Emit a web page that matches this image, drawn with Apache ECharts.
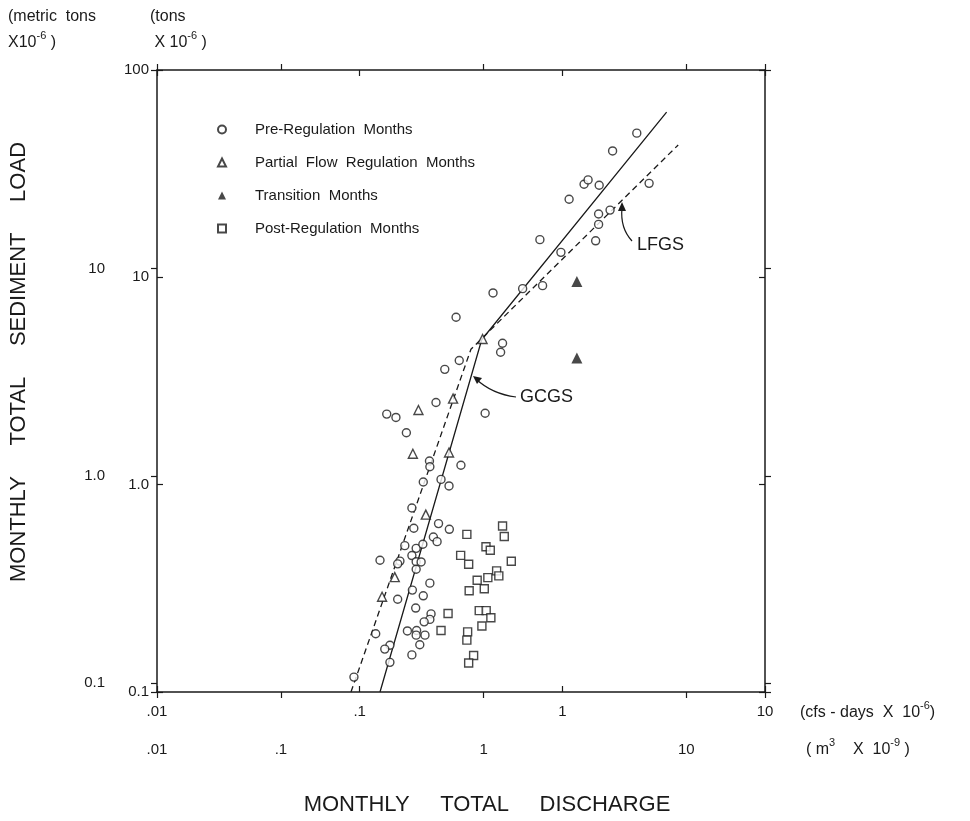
<!DOCTYPE html>
<html lang="en">

<head>
  <meta charset="utf-8">
  <title>Monthly total sediment load vs discharge</title>
  <script src="https://cdn.jsdelivr.net/npm/echarts@6/dist/echarts.min.js"></script>
  <style>
    body {
      margin: 0;
      background: white;
    }

    #chart {
      width: 970px;
      height: 821px;
    }
  </style>
</head>

<body>
  <div id="chart"></div>

  <script>
    // --- Data (tons x 1e-6 vs cfs-days x 1e-6).

    const PRE_REGULATION = [
      [2.33, 49.6], [1.77, 40.7], [1.28, 28.1], [1.34, 29.5], [1.52, 27.8], [1.08, 23.8], [2.68, 28.4],
      [1.51, 20.2], [1.51, 18.0], [1.72, 21.1], [0.775, 15.2], [1.46, 15.0], [0.984, 13.2], [0.637, 8.82],
      [0.799, 9.12], [0.455, 8.41], [0.299, 6.42], [0.507, 4.81], [0.496, 4.35], [0.310, 3.97], [0.263, 3.60],
      [0.238, 2.49], [0.136, 2.19], [0.151, 2.11], [0.416, 2.21], [0.170, 1.78], [0.221, 1.30], [0.222, 1.22],
      [0.316, 1.24], [0.206, 1.03], [0.252, 1.06], [0.276, 0.986], [0.181, 0.772], [0.185, 0.616], [0.245, 0.649],
      [0.277, 0.609], [0.231, 0.559], [0.167, 0.508], [0.190, 0.493], [0.205, 0.516], [0.241, 0.531], [0.126, 0.432],
      [0.158, 0.428], [0.154, 0.415], [0.181, 0.455], [0.190, 0.425], [0.201, 0.424], [0.190, 0.391], [0.222, 0.335],
      [0.182, 0.310], [0.206, 0.291], [0.154, 0.280], [0.189, 0.254], [0.225, 0.238], [0.222, 0.224], [0.208, 0.218],
      [0.172, 0.197], [0.191, 0.198], [0.190, 0.188], [0.210, 0.188], [0.120, 0.191], [0.198, 0.169], [0.141, 0.168],
      [0.133, 0.161], [0.181, 0.151], [0.141, 0.139], [0.0937, 0.118]
    ];

    const PARTIAL_FLOW = [
      [0.404, 5.04], [0.289, 2.60], [0.195, 2.29], [0.183, 1.41], [0.276, 1.43], [0.212, 0.717],
      [0.149, 0.358], [0.129, 0.288]
    ];

    const TRANSITION = [[1.18, 9.54], [1.18, 4.08]];

    const POST_REGULATION = [
      [0.338, 0.576], [0.507, 0.632], [0.517, 0.562], [0.315, 0.456], [0.345, 0.413], [0.420, 0.502],
      [0.441, 0.483], [0.560, 0.427], [0.380, 0.346], [0.429, 0.356], [0.474, 0.384], [0.486, 0.363],
      [0.412, 0.315], [0.347, 0.308], [0.273, 0.239], [0.389, 0.247], [0.421, 0.247], [0.444, 0.228],
      [0.401, 0.208], [0.252, 0.198], [0.341, 0.195], [0.338, 0.178], [0.365, 0.150], [0.345, 0.138]
    ];

    // Fitted rating lines, two segments each.
    const GCGS_LINE = [[0.126, 0.1], [0.40, 5.0], [3.27, 62.6]];
    const LFGS_LINE = [[0.0906, 0.1], [0.354, 4.5], [3.73, 43.5]];

    // Tick labels, in tick order (log axes also tick at min and max).
    const CFS_LABELS = ['.01', '.1', '1', '10'];
    const M3_LABELS = ['.01', '.1', '1', '10', ''];
    const TONS_LABELS = ['0.1', '1.0', '10', '100'];
    const METRIC_LABELS = ['', '0.1', '1.0', '10', ''];

    // Unit conversions used for the secondary axes.
    const M3_PER_CFS_DAY = 2.4466;   // 1e6 cfs-days = 2.4466e9 m3
    const TONS_PER_TONNE = 1.1023;

    const SERIES_NAMES = ['Pre-Regulation  Months', 'Partial  Flow  Regulation  Months', 'Transition  Months', 'Post-Regulation  Months'];

    const INK = '#1a1a1a';
    const FONT = '"Liberation Sans", Arial, sans-serif';

    // --- Axis helpers.

    function logAxis(extra) {
      return Object.assign({
        type: 'log',
        logBase: 10,
        splitLine: { show: false },
        minorTick: { show: false },
        axisLine: { show: false, lineStyle: { color: INK, width: 1.5 } },
        axisTick: { show: true, length: 6, lineStyle: { color: INK, width: 1.2 } },
        axisLabel: { show: false, color: INK, fontSize: 15, fontFamily: FONT }
      }, extra);
    }

    function pick(labels) {
      return (value, index) => labels[index] || '';
    }

    // Text with small raised exponents, written as {sup|...}.
    function supText(x, y, str, size) {
      return {
        type: 'text', x: x, y: y,
        style: {
          text: str, fill: INK, fontSize: size, fontFamily: FONT, lineHeight: 26,
          rich: { sup: { fontSize: Math.round(size * 0.7), fontFamily: FONT, fill: INK, verticalAlign: 'top', lineHeight: 16 } }
        }
      };
    }

    function makeOptions() {
      const cfsMin = 0.01, cfsMax = 10;
      const tonsMin = 0.1, tonsMax = 100;

      const xAxis = [
        // cfs-days, bottom edge, ticks inside.
        logAxis({
          position: 'bottom', min: cfsMin, max: cfsMax,
          axisLine: { show: true, lineStyle: { color: INK, width: 1.5 } },
          axisTick: { show: true, inside: true, length: 6, lineStyle: { color: INK, width: 1.2 } },
          axisLabel: { show: true, color: INK, fontSize: 15, fontFamily: FONT, margin: 12, formatter: pick(CFS_LABELS) }
        }),
        // m3, bottom edge, ticks outside, labels on a lower row.
        logAxis({
          position: 'bottom', min: cfsMin * M3_PER_CFS_DAY, max: cfsMax * M3_PER_CFS_DAY,
          axisLabel: { show: true, color: INK, fontSize: 15, fontFamily: FONT, margin: 50, formatter: pick(M3_LABELS) }
        }),
        // top edge.
        logAxis({
          position: 'top', min: cfsMin, max: cfsMax,
          axisLine: { show: true, lineStyle: { color: INK, width: 1.5 } },
          axisTick: { show: true, inside: true, length: 6, lineStyle: { color: INK, width: 1.2 } }
        }),
        logAxis({ position: 'top', min: cfsMin * M3_PER_CFS_DAY, max: cfsMax * M3_PER_CFS_DAY })
      ];

      const yAxis = [
        // tons, left edge.
        logAxis({
          position: 'left', min: tonsMin, max: tonsMax,
          axisLine: { show: true, lineStyle: { color: INK, width: 1.5 } },
          axisTick: { show: true, inside: true, length: 6, lineStyle: { color: INK, width: 1.2 } },
          axisLabel: { show: true, color: INK, fontSize: 15, fontFamily: FONT, margin: 8, formatter: pick(TONS_LABELS) }
        }),
        // metric tons, left edge, outer label column.
        logAxis({
          position: 'left', min: tonsMin / TONS_PER_TONNE, max: tonsMax / TONS_PER_TONNE,
          axisLabel: { show: true, color: INK, fontSize: 15, fontFamily: FONT, margin: 52, formatter: pick(METRIC_LABELS) }
        }),
        // right edge.
        logAxis({
          position: 'right', min: tonsMin, max: tonsMax,
          axisLine: { show: true, lineStyle: { color: INK, width: 1.5 } },
          axisTick: { show: true, inside: true, length: 6, lineStyle: { color: INK, width: 1.2 } }
        }),
        logAxis({ position: 'right', min: tonsMin / TONS_PER_TONNE, max: tonsMax / TONS_PER_TONNE })
      ];

      const hollow = { color: '#fff', borderColor: INK, borderWidth: 1.4 };

      const series = [
        { name: SERIES_NAMES[0], type: 'scatter', symbol: 'circle', symbolSize: 8, itemStyle: hollow, data: PRE_REGULATION, z: 3 },
        { name: SERIES_NAMES[1], type: 'scatter', symbol: 'triangle', symbolSize: 9, itemStyle: hollow, data: PARTIAL_FLOW, z: 3 },
        { name: SERIES_NAMES[2], type: 'scatter', symbol: 'triangle', symbolSize: 11, itemStyle: { color: INK }, data: TRANSITION, z: 3 },
        { name: SERIES_NAMES[3], type: 'scatter', symbol: 'rect', symbolSize: 8, itemStyle: hollow, data: POST_REGULATION, z: 3 },
        {
          name: 'GCGS', type: 'line', data: GCGS_LINE, symbol: 'none', z: 2,
          lineStyle: { color: INK, width: 1.3 }
        },
        {
          name: 'LFGS', type: 'line', data: LFGS_LINE, symbol: 'none', z: 2,
          lineStyle: { color: INK, width: 1.3, type: [6, 4] }
        }
      ];

      const text = (x, y, str, size) => ({
        type: 'text', x: x, y: y,
        style: { text: str, fill: INK, fontSize: size, fontFamily: FONT }
      });

      const graphic = [
        supText(8, 4, '(metric  tons\nX10{sup|-6} )', 16),
        supText(150, 4, '(tons\n X 10{sup|-6} )', 16),
        supText(800, 700, '(cfs - days  X  10{sup|-6})', 16),
        supText(806, 737, '( m{sup|3}    X  10{sup|-9} )', 16),
        {
          type: 'text', x: 487, y: 805,
          style: { text: 'MONTHLY     TOTAL     DISCHARGE', fill: INK, fontSize: 22, fontFamily: FONT, align: 'center', verticalAlign: 'middle' }
        },
        {
          type: 'text', x: 19, y: 362, rotation: Math.PI / 2,
          style: { text: 'MONTHLY     TOTAL     SEDIMENT     LOAD', fill: INK, fontSize: 22, fontFamily: FONT, align: 'center', verticalAlign: 'middle' }
        },
        // Curve labels and their arrows.
        text(520, 388, 'GCGS', 18),
        {
          type: 'bezierCurve',
          shape: { x1: 516, y1: 397, cpx1: 492, cpy1: 394, x2: 476, y2: 379 },
          style: { stroke: INK, lineWidth: 1.2, fill: null }
        },
        {
          type: 'polygon',
          shape: { points: [[473, 376], [482, 378], [477, 384]] },
          style: { fill: INK }
        },
        text(637, 236, 'LFGS', 18),
        {
          type: 'bezierCurve',
          shape: { x1: 632, y1: 241, cpx1: 620, cpy1: 228, x2: 622, y2: 208 },
          style: { stroke: INK, lineWidth: 1.2, fill: null }
        },
        {
          type: 'polygon',
          shape: { points: [[622, 202], [618, 211], [626, 211]] },
          style: { fill: INK }
        }
      ];

      return {
        backgroundColor: '#fff',
        animation: false,
        grid: { left: 157, top: 70, width: 608, height: 622, containLabel: false },
        legend: {
          data: SERIES_NAMES,
          orient: 'vertical',
          left: 212,
          top: 117,
          itemWidth: 8,
          itemHeight: 8,
          itemGap: 18,
          selectedMode: false,
          textStyle: { color: INK, fontSize: 15, fontFamily: FONT, padding: [0, 0, 0, 24] }
        },
        xAxis: xAxis,
        yAxis: yAxis,
        series: series,
        graphic: graphic
      };
    }

    function runPage() {
      const instance = echarts.init(document.getElementById('chart'), null, { renderer: 'canvas' });
      instance.setOption(makeOptions());
    }

    runPage();
  </script>
</body>

</html>
